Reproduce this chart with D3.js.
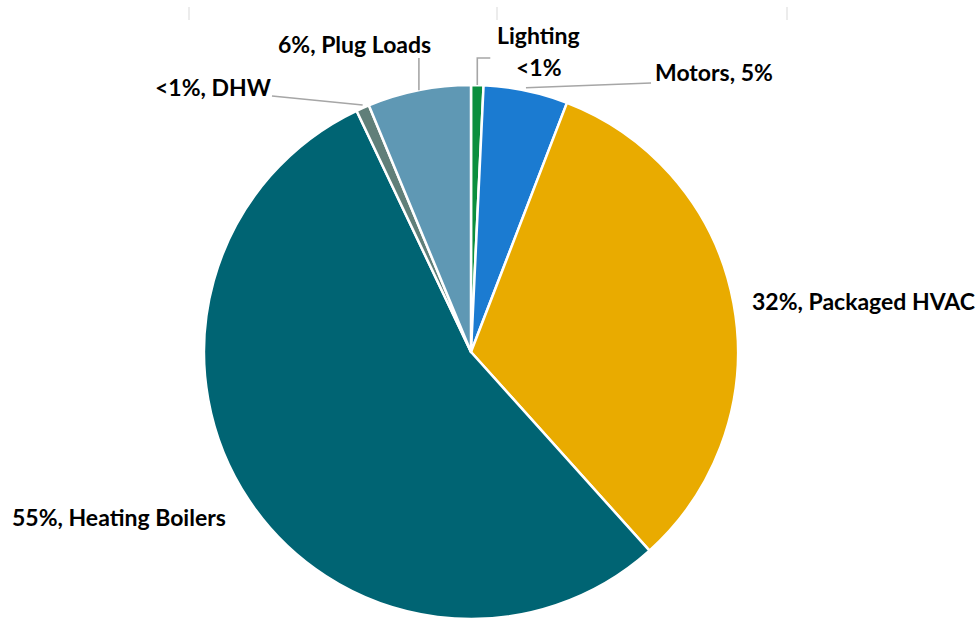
<!DOCTYPE html>
<html>
<head>
<meta charset="utf-8">
<script src="https://cdn.jsdelivr.net/npm/d3@7"></script>
<style>
  html, body { margin: 0; padding: 0; background: #fff; }
  svg { display: block; }
  text { font-family: Lato, "Open Sans", sans-serif; font-weight: bold; fill: #000; }
</style>
</head>
<body>
<div id="chart"></div>
<script>
// data (share of energy use, %)
const categories = ['Lighting', 'Motors', 'Packaged HVAC', 'Heating Boilers', 'DHW', 'Plug Loads'];
const values = [0.75, 5.1, 32.5, 54.6, 0.8, 6.25];
const shownPct = ['<1%', '5%', '32%', '55%', '<1%', '6%'];
const colors = ['#0b8f3e', '#1b7bd1', '#e9ab00', '#006473', '#607f79', '#5f98b4'];

const width = 980;
const height = 619;
const cx = 471, cy = 352, radius = 267;

// label placement (relative to the chart centre) and how the leader bends
const labelLayout = [
  { lines: d => [d.name, d.pct], x: 26, y: -308, anchor: 'start', lineGap: 32, leader: 'elbow' },
  { lines: d => [d.name + ', ' + d.pct], x: 184, y: -271, anchor: 'start', leader: 'straight', to: [180, -269] },
  { lines: d => [d.pct + ', ' + d.name], x: 281, y: -42, anchor: 'start', leader: 'none' },
  { lines: d => [d.pct + ', ' + d.name], x: -459, y: 174, anchor: 'start', leader: 'none' },
  { lines: d => [d.pct + ', ' + d.name], x: -316, y: -256, anchor: 'start', leader: 'straight', to: [-199, -256] },
  { lines: d => [d.pct + ', ' + d.name], x: -193, y: -299, anchor: 'start', leader: 'vertical', to: [0, -294] }
];

const data = categories.map((name, i) => ({ name, value: values[i], pct: shownPct[i], color: colors[i] }));

const svg = d3.select('#chart')
  .append('svg')
  .attr('width', width)
  .attr('height', height)
  .attr('viewBox', [0, 0, width, height]);

// faint tick marks along the top edge
svg.append('g')
  .selectAll('line')
  .data([189, 497, 787])
  .join('line')
    .attr('x1', d => d).attr('x2', d => d)
    .attr('y1', 7).attr('y2', 20)
    .attr('stroke', '#d9d9d9')
    .attr('stroke-width', 1);

const pie = d3.pie()
  .sort(null)
  .value(d => d.value);

const arcs = pie(data);

const arc = d3.arc()
  .innerRadius(0)
  .outerRadius(radius);

const g = svg.append('g')
  .attr('transform', `translate(${cx},${cy})`);

g.append('g')
  .selectAll('path')
  .data(arcs)
  .join('path')
    .attr('d', arc)
    .attr('fill', d => d.data.color)
    .attr('stroke', '#fff')
    .attr('stroke-width', 2.5)
    .attr('stroke-linejoin', 'round');

// point on the rim at the middle of a slice
function rim(d, r) {
  const a = (d.startAngle + d.endAngle) / 2;
  return [Math.sin(a) * r, -Math.cos(a) * r];
}

const leaders = g.append('g')
  .attr('fill', 'none')
  .attr('stroke', '#a6a6a6')
  .attr('stroke-width', 1.6);

arcs.forEach((d, i) => {
  const L = labelLayout[i];
  const p = rim(d, radius);
  if (L.leader === 'elbow') {
    leaders.append('path')
      .attr('d', d3.line()([p, [p[0], p[1] - 27], [p[0] + 13, p[1] - 27]]));
  } else if (L.leader === 'straight') {
    leaders.append('path')
      .attr('d', d3.line()([[p[0], p[1] - 3], L.to]));
  } else if (L.leader === 'vertical') {
    leaders.append('path')
      .attr('d', d3.line()([p, [p[0], L.to[1]]]));
  }
});

const labels = g.append('g')
  .attr('font-size', 23);

arcs.forEach((d, i) => {
  const L = labelLayout[i];
  const t = labels.append('text')
    .attr('x', L.x)
    .attr('y', L.y)
    .attr('text-anchor', L.anchor);
  L.lines(d.data).forEach((s, k) => {
    t.append('tspan')
      .attr('x', k === 0 ? L.x : L.x + 19)
      .attr('dy', k === 0 ? 0 : L.lineGap)
      .text(s);
  });
});
</script>
</body>
</html>
